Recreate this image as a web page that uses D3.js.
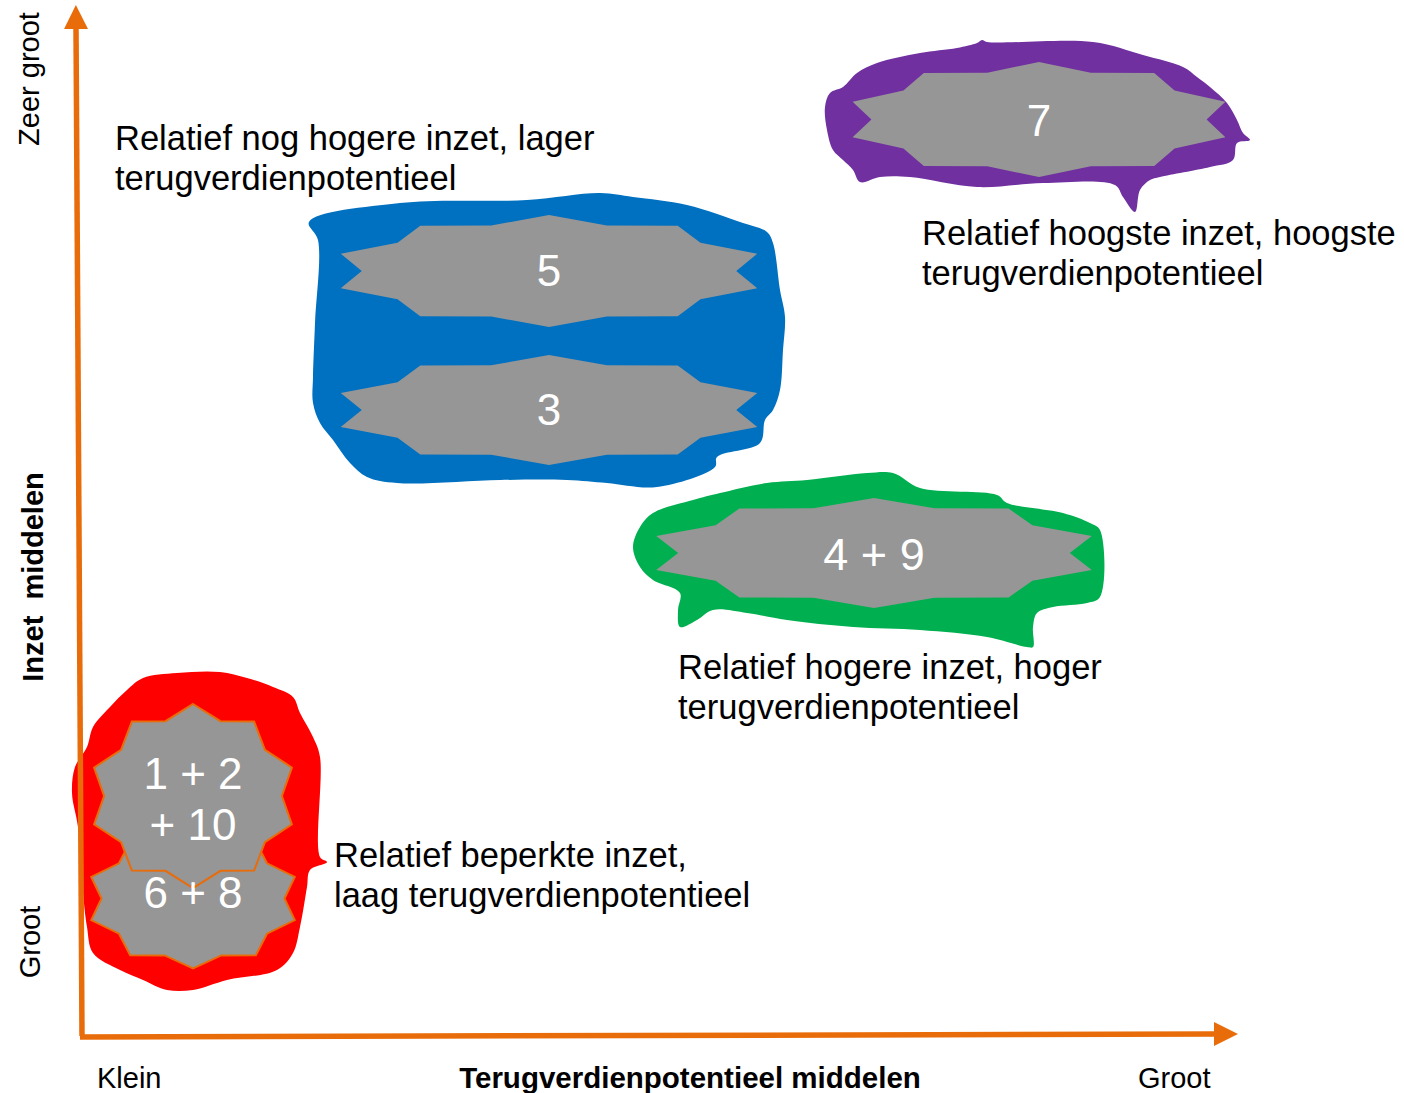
<!DOCTYPE html>
<html>
<head>
<meta charset="utf-8">
<script src="https://cdn.jsdelivr.net/npm/d3@7"></script>
<style>
  body { margin: 0; background: #fff; }
  text { font-family: "Liberation Sans", Arial, sans-serif; }
</style>
</head>
<body>
<div id="chart"></div>
<script>
// axis units: potentieel (x) 0..1158, inzet (y) 0..1031
const potentieelMax = 1158;
const inzetMax = 1031;

// grey stars: centre, half width, half height (axis units)
const starNames   = ["6 + 8", "1 + 2 + 10", "5", "3", "4 + 9", "7"];
const starLines   = [["6 + 8"], ["1 + 2", "+ 10"], ["5"], ["3"], ["4 + 9"], ["7"]];
const starGroup   = ["rood", "rood", "blauw", "blauw", "groen", "paars"];
const starPot     = [113, 113, 469, 469, 794, 959];
const starInzet   = [137.5, 240, 765, 626, 483, 916.5];
const starRx      = [107, 104, 219, 219, 229, 196];
const starRy      = [70, 92, 56, 55, 55, 57.5];

// hand drawn areas round the clusters, [potentieel, inzet]
const blobRood = [[63,358],[97,363],[140,364],[167,358],[193,349],[213,339],[220,323],[233,299],[240,279],
  [240,179],[247,174],[230,166],[227,149],[220,109],[213,83],[197,66],[147,56],[113,46],[87,46],[63,56],
  [40,66],[13,83],[7,109],[3,143],[-2,209],[-8,243],[-5,269],[7,289],[13,309],[30,329],[47,346]];
const blobBlauw = [[229,814],[320,833],[447,836],[520,843],[553,839],[607,831],[663,813],[687,804],[693,793],
  [700,746],[705,719],[703,686],[700,646],[693,626],[685,616],[680,593],[637,579],[635,569],[577,549],
  [527,553],[487,556],[420,556],[317,553],[287,559],[270,573],[253,596],[240,613],[233,633],[233,659],
  [235,713],[238,796]];
const blobGroen = [[553,489],[560,509],[573,523],[613,536],[640,543],[687,553],[727,556],[787,563],[813,563],
  [840,548],[917,541],[927,533],[983,523],[1010,513],[1020,506],[1020,439],[1007,433],[973,429],[957,423],
  [953,409],[953,389],[947,389],[907,399],[840,406],[773,409],[707,416],[667,423],[633,426],[617,416],
  [600,409],[598,426],[600,443],[573,456],[560,469]];
const blobPaars = [[745,929],[750,943],[763,949],[777,963],[797,973],[840,983],[877,988],[897,993],[902,996],
  [907,994],[1013,994],[1063,981],[1103,969],[1117,959],[1130,949],[1147,933],[1157,916],[1163,903],
  [1170,896],[1157,893],[1153,876],[1130,869],[1080,859],[1070,856],[1060,846],[1055,824],[1043,839],
  [1035,851],[963,853],[897,849],[830,859],[800,859],[780,854],[773,866],[763,876],[753,886],[747,906]];
const blobs = { rood: blobRood, blauw: blobBlauw, groen: blobGroen, paars: blobPaars };

// explanatory notes, anchored at [potentieel, inzet]
const noteLines = [
  ["Relatief nog hogere inzet, lager", "terugverdienpotentieel"],
  ["Relatief hoogste inzet, hoogste", "terugverdienpotentieel"],
  ["Relatief hogere inzet, hoger", "terugverdienpotentieel"],
  ["Relatief beperkte inzet,", "laag terugverdienpotentieel"]
];
const notePot   = [35, 842, 598, 254];
const noteInzet = [886, 791, 357, 169];

const xTicks = ["Klein", "Groot"];
const yTicks = ["Groot", "Zeer groot"];
const xTitle = "Terugverdienpotentieel middelen";
const yTitle = "Inzet  middelen";

const colors = { rood: "#FF0000", blauw: "#0070C0", groen: "#00B050", paars: "#7030A0" };
const grey = "#969696";
const orange = "#E96C0A";

const width = 1404, height = 1093;
const x = d3.scaleLinear().domain([0, potentieelMax]).range([80, 1238]);
const y = d3.scaleLinear().domain([0, inzetMax]).range([1036, 5]);

const svg = d3.select("#chart").append("svg")
  .attr("width", width)
  .attr("height", height)
  .style("background-color", "white");

const line = d3.line()
  .x(d => x(d[0]))
  .y(d => y(d[1]))
  .curve(d3.curveCatmullRomClosed.alpha(0.5));

// blobs
svg.append("g").selectAll("path")
  .data(Object.keys(blobs))
  .enter()
  .append("path")
    .attr("d", k => line(blobs[k]))
    .attr("fill", k => colors[k]);

// stars (10 points)
function starPoints(i) {
  return d3.range(20).map(k => {
    const a = Math.PI / 2 - k * Math.PI / 10;
    const r = k % 2 ? 0.855 : 1;
    return [starPot[i] + starRx[i] * r * Math.cos(a), starInzet[i] + starRy[i] * r * Math.sin(a)];
  });
}
const starLine = d3.line().x(d => x(d[0])).y(d => y(d[1]));
const idx = starNames.map((n, i) => i);

svg.append("g").selectAll("path")
  .data(idx)
  .enter()
  .append("path")
    .attr("d", i => starLine(starPoints(i)) + "Z")
    .attr("fill", grey)
    .attr("stroke", i => starGroup[i] === "rood" ? orange : "none")
    .attr("stroke-width", 2)
    .attr("stroke-linejoin", "miter");

// offsets of the first baseline (em) relative to star centre
const firstLineDy = [0.22, -0.16, 0.35, 0.35, 0.38, 0.38];
const starFont = [44, 44, 44, 44, 45, 44];
svg.append("g").selectAll("text")
  .data(idx)
  .enter()
  .append("text")
    .attr("x", i => x(starPot[i]))
    .attr("y", i => y(starInzet[i]))
    .attr("text-anchor", "middle")
    .attr("fill", "white")
    .attr("font-size", i => starFont[i])
    .style("white-space", "pre")
  .selectAll("tspan")
  .data(i => starLines[i].map((t, j) => ({ t, j, i })))
  .enter()
  .append("tspan")
    .attr("x", d => x(starPot[d.i]))
    .attr("dy", d => d.j === 0 ? firstLineDy[d.i] + "em" : "1.16em")
    .text(d => d.t);

// axes with arrow heads
const defs = svg.append("defs");
defs.append("marker")
  .attr("id", "arrow")
  .attr("viewBox", "0 0 24 24")
  .attr("refX", 2).attr("refY", 12)
  .attr("markerWidth", 24).attr("markerHeight", 24)
  .attr("markerUnits", "userSpaceOnUse")
  .attr("orient", "auto")
  .append("path")
    .attr("d", "M0,0 L24,12 L0,24 Z")
    .attr("fill", orange);

svg.append("line")
  .attr("x1", x(2)).attr("y1", y(0))
  .attr("x2", x(-4)).attr("y2", y(inzetMax - 22))
  .attr("stroke", orange).attr("stroke-width", 5.5)
  .attr("marker-end", "url(#arrow)");

svg.append("line")
  .attr("x1", x(0)).attr("y1", y(-1))
  .attr("x2", x(potentieelMax - 22)).attr("y2", y(2))
  .attr("stroke", orange).attr("stroke-width", 5.5)
  .attr("marker-end", "url(#arrow)");

// notes
const notes = svg.append("g").selectAll("text")
  .data(noteLines.map((n, i) => i))
  .enter()
  .append("text")
    .attr("x", i => x(notePot[i]))
    .attr("y", i => y(noteInzet[i]))
    .attr("font-size", 34.5)
    .attr("fill", "black");
notes.selectAll("tspan")
  .data(i => noteLines[i].map((t, j) => ({ t, j, i })))
  .enter()
  .append("tspan")
    .attr("x", d => x(notePot[d.i]))
    .attr("dy", d => d.j === 0 ? 0 : 39.5)
    .text(d => d.t);

// axis labels
const bottom = 1088;
svg.append("text").attr("x", 97).attr("y", bottom)
  .attr("font-size", 29).text(xTicks[0]);
svg.append("text").attr("x", 1138).attr("y", bottom)
  .attr("font-size", 29).text(xTicks[1]);
svg.append("text").attr("x", 690).attr("y", bottom)
  .attr("text-anchor", "middle").attr("font-size", 29.5).attr("font-weight", "bold")
  .text(xTitle);

svg.append("text")
  .attr("transform", "translate(40,942) rotate(-90)")
  .attr("text-anchor", "middle").attr("font-size", 29).text(yTicks[0]);
svg.append("text")
  .attr("transform", "translate(39,79) rotate(-90)")
  .attr("text-anchor", "middle").attr("font-size", 29).text(yTicks[1]);
svg.append("text")
  .attr("transform", "translate(43,577) rotate(-90)")
  .attr("text-anchor", "middle").attr("font-size", 29).attr("font-weight", "bold")
  .style("white-space", "pre")
  .text(yTitle);
</script>
</body>
</html>
